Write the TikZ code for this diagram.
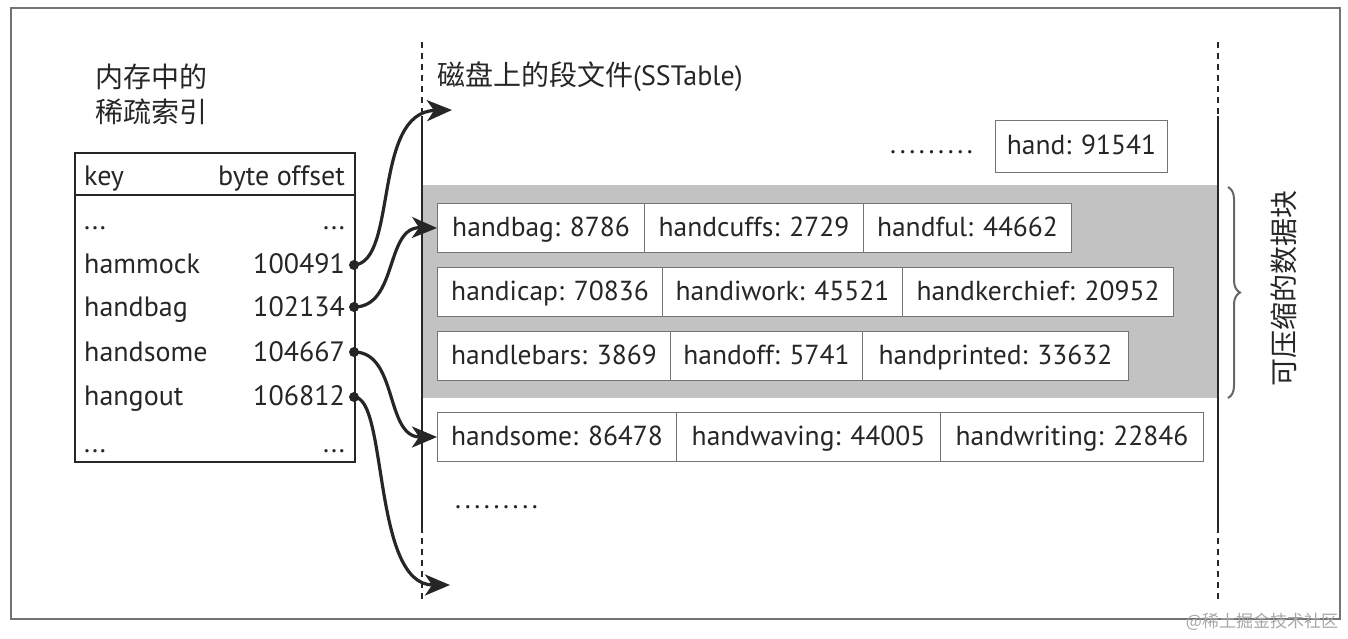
\documentclass[tikz,border=0pt]{standalone}
\usepackage{fontspec}
\setmainfont{PT Sans}
\newfontfamily\cjk{Noto Sans CJK SC}
\usetikzlibrary{arrows.meta,decorations.pathreplacing}
\newcommand\ninedots{.\kern3.6pt.\kern3.6pt.\kern3.6pt.\kern3.6pt.\kern3.6pt.\kern3.6pt.\kern3.6pt.\kern3.6pt.}
\begin{document}
\begin{tikzpicture}[x=1pt,y=-1pt,
  txt/.style={font=\fontsize{28}{30}\selectfont, text=black!85, inner sep=0},
  cjktxt/.style={font=\cjk\fontsize{28}{30}\selectfont, text=black!85, inner sep=0},
  cell/.style={draw=black!55, line width=1pt, fill=white, minimum height=49pt, inner sep=0,
    text height=21pt, text depth=5pt,
    anchor=north west, font=\fontsize{27.5}{30}\selectfont, text=black!85},
  conn/.style={line width=3.2pt, draw=black!85, -{Stealth[length=25pt,width=21pt,inset=7pt]}},
  dotnode/.style={circle, fill=black!85, inner sep=0, minimum size=10pt},
  vsolid/.style={line width=1.8pt, draw=black!85},
  vdash/.style={line width=1.3pt, draw=black!85, dash pattern=on 6pt off 5pt},
]
\useasboundingbox (0,0) rectangle (1348,638);
% outer frame
\draw[black!55, line width=2pt] (11,8) rectangle (1340,619);

% gray band
\fill[black!24] (422,185) rectangle (1218,398);

% vertical lines
\coordinate (La) at (422,42); \coordinate (Lb) at (422,116);
\coordinate (Lc) at (422,527); \coordinate (Ld) at (422,600);
\coordinate (Ra) at (1218,42); \coordinate (Rb) at (1218,116);
\coordinate (Rc) at (1218,527); \coordinate (Rd) at (1218,600);
\draw[vdash] (La) -- (Lb);
\draw[vsolid] (Lb) -- (Lc);
\draw[vdash] (Lc) -- (Ld);
\draw[vdash] (Ra) -- (Rb);
\draw[vsolid] (Rb) -- (Rc);
\draw[vdash] (Rc) -- (Rd);

% left titles
\node[cjktxt, anchor=west] (t1) at (95,77) {内存中的};
\node[cjktxt, anchor=west] (t2) at (95,112) {稀疏索引};
\node[txt, anchor=west, font=\fontsize{28}{30}\selectfont] (t3) at (437,77) {{\cjk 磁盘上的段文件}(SSTable)};

% index table
\draw[black!85, line width=1.5pt] (75,153) rectangle (355,462);
\draw[black!85, line width=1.5pt] (75,195) -- (355,195);
\node[txt, anchor=base west] (hk) at (84,185) {key};
\node[txt, anchor=base east] (hv) at (345,185) {byte offset};
\node[txt, anchor=base west] (k0) at (84,229) {...};
\node[txt, anchor=base east] (v0) at (345,229) {...};
\node[txt, anchor=base west] (k1) at (84,273) {hammock};
\node[txt, anchor=base east] (v1) at (345,273) {100491};
\node[txt, anchor=base west] (k2) at (84,316) {handbag};
\node[txt, anchor=base east] (v2) at (345,316) {102134};
\node[txt, anchor=base west] (k3) at (84,361) {handsome};
\node[txt, anchor=base east] (v3) at (345,361) {104667};
\node[txt, anchor=base west] (k4) at (84,405) {hangout};
\node[txt, anchor=base east] (v4) at (345,405) {106812};
\node[txt, anchor=base west] (k5) at (84,452) {...};
\node[txt, anchor=base east] (v5) at (345,452) {...};

% dots
\node[dotnode] (d1) at (354,265) {};
\node[dotnode] (d2) at (354,307) {};
\node[dotnode] (d3) at (354,352) {};
\node[dotnode] (d4) at (354,397) {};

% top section
\node[txt, anchor=west] (dtop) at (890,152) {\ninedots};
\node[cell, minimum width=172pt, minimum height=52pt] (hand) at (995,120) {hand: 91541};

% rows
\node[cell, minimum width=207pt] (c11) at (437,203) {handbag: 8786};
\node[cell, minimum width=219pt] (c12) at (644,203) {handcuffs: 2729};
\node[cell, minimum width=208pt] (c13) at (863,203) {handful: 44662};
\node[cell, minimum width=225pt] (c21) at (437,267) {handicap: 70836};
\node[cell, minimum width=240pt] (c22) at (662,267) {handiwork: 45521};
\node[cell, minimum width=271pt] (c23) at (902,267) {handkerchief: 20952};
\node[cell, minimum width=233pt] (c31) at (437,331) {handlebars: 3869};
\node[cell, minimum width=192pt] (c32) at (670,331) {handoff: 5741};
\node[cell, minimum width=266pt] (c33) at (862,331) {handprinted: 33632};
\node[cell, minimum width=239pt] (c41) at (437,412) {handsome: 86478};
\node[cell, minimum width=264pt] (c42) at (676,412) {handwaving: 44005};
\node[cell, minimum width=263pt] (c43) at (940,412) {handwriting: 22846};
\node[txt, anchor=west] (dbot) at (455,507) {\ninedots};

% arrows
\coordinate (topT) at (452,110);
\coordinate (botT) at (450,585);
\draw[conn] (d1.center) .. controls (398,262) and (372,112) .. (topT);
\draw[conn] (d2.center) .. controls (398,307) and (385,227) .. (c11.west);
\draw[conn] (d3.center) .. controls (398,352) and (385,437) .. (c41.west);
\draw[conn] (d4.center) .. controls (388,397) and (372,585) .. (botT);

% brace and label
\coordinate (br1) at (1228,187);
\coordinate (br2) at (1228,398);
\draw[decorate, decoration={brace, amplitude=12pt}, line width=2pt, draw=black!60] (br1) -- (br2);
\node[cjktxt, rotate=90] (lab) at (1284,288) {可压缩的数据块};

% watermark
\node[font=\cjk\fontsize{17}{18}\selectfont, text=black!35, inner sep=0] (wm) at (1262,622) {@稀土掘金技术社区};
\end{tikzpicture}
\end{document}
